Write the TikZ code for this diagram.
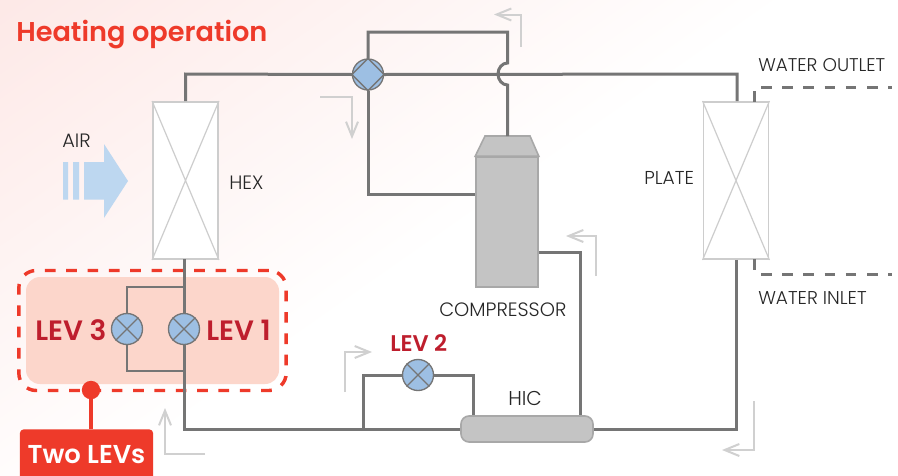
\documentclass[tikz,border=0pt]{standalone}
\usepackage{fontspec}
\setmainfont{Poppins Light}[BoldFont={Poppins SemiBold}]
\usetikzlibrary{arrows.meta,calc}
\definecolor{pipe}{HTML}{757575}
\definecolor{hexline}{HTML}{CDCDCD}
\definecolor{valveblue}{HTML}{9DBFE3}
\definecolor{comp}{HTML}{C4C4C4}
\definecolor{compline}{HTML}{A8A8A8}
\definecolor{redbright}{HTML}{EE3A2A}
\definecolor{reddark}{HTML}{BE1E2D}
\definecolor{panel}{HTML}{FCD6CB}
\definecolor{airblue}{HTML}{BDD7F0}
\definecolor{flow}{HTML}{D0D0D0}
\definecolor{bgpink}{HTML}{FDE6E4}
\definecolor{ink}{HTML}{262626}
\pgfdeclareverticalshading{bgfade}{100bp}{color(0bp)=(white);color(50bp)=(white);color(78bp)=(bgpink);color(100bp)=(bgpink)}
\tikzset{
 pipeline/.style={draw=pipe,line width=2.25pt},
 waterline/.style={draw=pipe,line width=2.25pt,dash pattern=on 7.9pt off 8pt},
 exch/.style={draw=hexline,fill=white,line width=1.4pt,minimum width=48.75pt,minimum height=117.75pt,inner sep=0pt},
 exchx/.style={draw=hexline,line width=.9pt},
 lev/.style={circle,draw=pipe,fill=valveblue,line width=1pt,minimum size=23.25pt,inner sep=0pt},
 levx/.style={draw=pipe,line width=1pt},
 flowarrow/.style={draw=flow,line width=1.5pt,-{Straight Barb[length=11pt,width=9pt,line width=1.5pt]}},
 lbl/.style={text=ink,inner sep=0pt,anchor=west},
 levlbl/.style={text=reddark,inner sep=0pt,anchor=west},
 compbox/.style={draw=compline,fill=comp,line width=1.2pt},
}
\newcommand{\sz}[1]{\fontsize{#1pt}{#1pt}\selectfont}
\begin{document}
\begin{tikzpicture}[x=0.75pt,y=-0.75pt]
\useasboundingbox (0,0) rectangle (898,475);
\begin{scope}
\clip (0,0) rectangle (898,475);
\shade[shading=bgfade,shading angle=35] (0,-211) rectangle (898,687);
\end{scope}
% panel
\node[draw=none,fill=panel,rounded corners=10.5pt,minimum width=189.75pt,minimum height=80.25pt,inner sep=0pt] (panelbox) at (152.5,330.5) {};
\node[draw=redbright,line width=2.6pt,dash pattern=on 8pt off 8pt,rounded corners=13pt,minimum width=200.5pt,minimum height=90pt,inner sep=0pt] (dashbox) at (152.5,330.5) {};
% components
\node[exch] (hex) at (185.5,180.5) {};
\node[exch] (plate) at (736,180.5) {};
\draw[exchx] (hex.north west) -- (hex.south east) (hex.north east) -- (hex.south west);
\draw[exchx] (plate.north west) -- (plate.south east) (plate.north east) -- (plate.south west);
\node[lev] (valve) at (368,74.5) {};
\node[lev] (lev3) at (127,329) {};
\node[lev] (lev1) at (184,329) {};
\node[lev] (lev2) at (418,375) {};
% compressor
\node[compbox,rounded corners=0pt,minimum width=46.5pt,minimum height=97.5pt,inner sep=0pt] (body) at (507,222) {};
\coordinate (capn) at (507.5,136);
\draw[compbox] (body.north west) -- (485,136) -- (capn) -- (530,136) -- (body.north east) -- cycle;
\node[compbox,rounded corners=6pt,minimum width=99pt,minimum height=19.5pt,inner sep=0pt] (hic) at (527,429) {};
% junctions
\coordinate (tl) at (185,74);
\coordinate (vtop) at (368,32);
\coordinate (ttr) at (507.5,32);
\coordinate (tr) at (737,74);
\coordinate (jtop) at (184,287);
\coordinate (jbot) at (184,371);
\coordinate (corner) at (184,429);
\coordinate (br) at (736,429);
\coordinate (vbl) at (368,194);
\coordinate (c1) at (580,252);
\coordinate (l2a) at (363,375);
\coordinate (l2b) at (473,375);
\coordinate (l2j) at (363,429);
% pipes
\draw[pipeline] (hex.north) -- (hex.north |- tl) -- (valve.west);
\draw[pipeline] (valve.east) -- (tr) -- (tr |- plate.north);
\draw[pipeline] (valve.north) -- (vtop) -- (ttr) -- (507.5,63) arc[start angle=-90,end angle=-270,x radius=9.5,y radius=11] -- (capn);
\draw[pipeline] (valve.south) -- (vbl) -- (vbl -| body.west);
\draw[pipeline] (body.east |- c1) -- (c1) -- (c1 |- hic.north);
\draw[pipeline] (184,259) -- (lev1.north);
\draw[pipeline] (lev1.south) -- (corner) -- (hic.west);
\draw[pipeline,line width=2pt] (jtop) -| (lev3.north);
\draw[pipeline,line width=2pt] (lev3.south) |- (jbot);
\draw[pipeline] (plate.south -| br) -- (br) -- (hic.east);
\draw[pipeline] (l2j) -- (l2a) -- (lev2.west);
\draw[pipeline] (lev2.east) -- (l2b) -- (l2b |- hic.north);
% valve glyphs
\draw[levx] (valve.north) -- (valve.east) -- (valve.south) -- (valve.west) -- cycle;
\foreach \n in {lev1,lev2,lev3}{
 \draw[levx] (\n.north west) -- (\n.south east) (\n.north east) -- (\n.south west);
}
% water
\coordinate (wo) at (761,87); \coordinate (woe) at (892,87);
\coordinate (wi) at (761,274); \coordinate (wie) at (892,274);
\draw[waterline] (wo) -- (woe);
\draw[waterline] (wi) -- (wie);
\draw[pipeline] (754,91) -- (754,102);
\draw[pipeline] (754,259) -- (754,270);
% air
\fill[airblue] (63,162) rectangle (68,199.5) (73,162) rectangle (79,199.5);
\fill[airblue] (84,162) -- (104,162) -- (104,144) -- (128,181) -- (104,218) -- (104,199.5) -- (84,199.5) -- cycle;
% flow arrows
\draw[flowarrow] (521,47) -- (521,14.5) -- (494,14.5);
\draw[flowarrow] (320,97) -- (352,97) -- (352,139);
\draw[flowarrow] (596,276) -- (596,236) -- (566,236);
\draw[flowarrow] (345,392) -- (345,352) -- (372,352);
\draw[flowarrow] (205,454) -- (165,454) -- (165,408);
\draw[flowarrow] (754,401) -- (754,450) -- (722,450);
% callout
\node[fill=redbright,rounded corners=3pt,minimum width=100pt,minimum height=40pt,inner sep=0pt] (tag) at (86.5,456) {};
\fill[redbright] (91,390) circle[radius=9.2];
\coordinate (dot) at (91,390);
\draw[redbright,line width=3.5pt] (dot) -- (dot |- tag.north);
% text
\node[anchor=west,text=redbright,font=\bfseries\sz{20.4},inner sep=0pt] (title) at (16,35) {Heating operation};
\node[text=white,font=\bfseries\sz{19.4},inner sep=0pt] (tagtext) at (86.5,455) {Two LEVs};
\node[levlbl,font=\bfseries\sz{21}] (t3) at (35,330) {LEV 3};
\node[levlbl,font=\bfseries\sz{21}] (t1) at (206,330) {LEV 1};
\node[levlbl,font=\bfseries\sz{17}] (t2) at (390,343.5) {LEV 2};
\node[lbl,font=\sz{14.5}] (air) at (62,140.5) {AIR};
\node[lbl,font=\sz{14.5}] (hext) at (229,183) {HEX};
\node[lbl,font=\sz{14}] (platet) at (644,177.5) {PLATE};
\node[lbl,font=\sz{13.8}] (wot) at (758,65) {WATER OUTLET};
\node[lbl,font=\sz{13.9}] (wit) at (758,298) {WATER INLET};
\node[lbl,font=\sz{14.5}] (compt) at (439,310) {COMPRESSOR};
\node[lbl,font=\sz{15}] (hict) at (508,398.5) {HIC};
\end{tikzpicture}
\end{document}
